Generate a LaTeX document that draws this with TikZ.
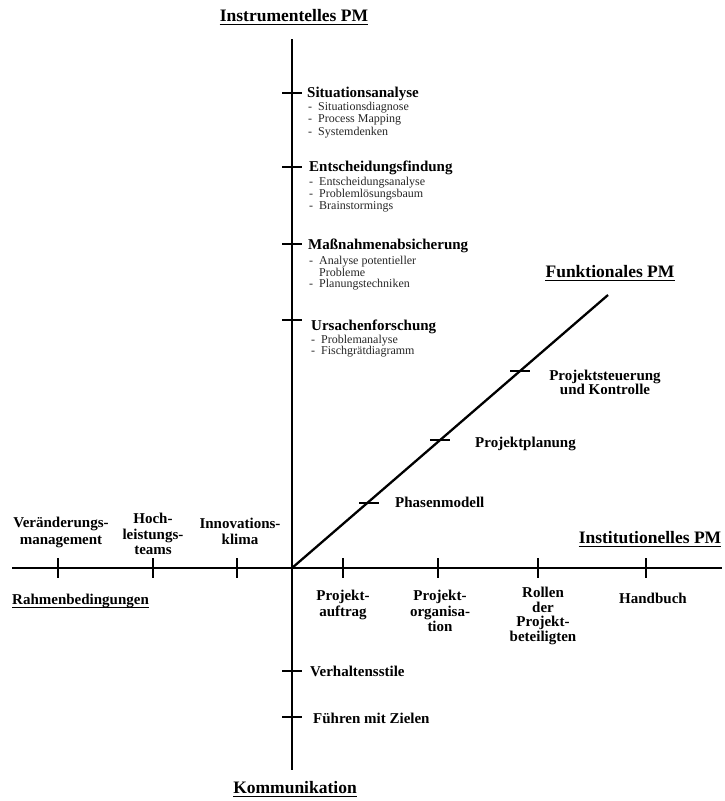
\documentclass[tikz,border=0pt]{standalone}
\usepackage{fontspec}
\setmainfont{Liberation Serif}
\begin{document}
\begin{tikzpicture}[x=1pt,y=-1pt,
  axis/.style={line width=2.6pt},
  diag/.style={line width=2.3pt},
  tk/.style={line width=2.2pt},
  head/.style={font=\fontsize{17.5}{18}\selectfont\bfseries, inner sep=0pt, anchor=base},
  uline/.style={line width=1.4pt},
  lbl/.style={font=\fontsize{15}{15.5}\selectfont\bfseries, inner sep=0pt},
  sub/.style={font=\fontsize{12}{12}\selectfont, inner sep=0pt, anchor=base west, text=black!85}]
\useasboundingbox (0,0) rectangle (724,801);

% axes
\coordinate (O) at (292,568);
\coordinate (Vtop) at (292,39);
\coordinate (Vbot) at (292,770);
\coordinate (Hl) at (12,568);
\coordinate (Hr) at (722,568);
\coordinate (Dend) at (608,295);
\draw[axis] (Vtop) -- (Vbot);
\draw[axis] (Hl) -- (Hr);
\draw[diag] (O) -- (Dend);

% ticks
\foreach \y/\n in {93/va,167/vb,244/vc,320/vd,671/ve,717/vf}
  {\coordinate (\n) at (292,\y); \draw[tk] (\n) ++(-10,0) -- ++(20,0);}
\foreach \x/\n in {58/ha,153/hb,237/hc,343/hd,438/he,538/hf,646/hg}
  {\coordinate (\n) at (\x,568); \draw[tk] (\n) ++(0,-10) -- ++(0,20);}
\foreach \x/\y/\n in {369/503/da,440/440/db,520/371/dc}
  {\coordinate (\n) at (\x,\y); \draw[tk] (\n) ++(-10,0) -- ++(20,0);}

% headings
\node[head] (ipm) at (294,21) {Instrumentelles PM};
\draw[uline] ([yshift=-3.5pt]ipm.base west) -- ([yshift=-3.5pt]ipm.base east);
\node[head] (kom) at (295,793) {Kommunikation};
\draw[uline] ([yshift=-3.5pt]kom.base west) -- ([yshift=-3.5pt]kom.base east);
\node[head] (fpm) at (610,277) {Funktionales PM};
\draw[uline] ([yshift=-3.5pt]fpm.base west) -- ([yshift=-3.5pt]fpm.base east);
\node[head] (inst) at (650,543) {Institutionelles PM};
\draw[uline] ([yshift=-3.5pt]inst.base west) -- ([yshift=-3.5pt]inst.base east);
\node[lbl, anchor=base west] (rb) at (12,604) {Rahmenbedingungen};
\draw[uline] ([yshift=-3.5pt]rb.base west) -- ([yshift=-3.5pt]rb.base east);

% instrumentelles PM items
\node[lbl, anchor=base west] (sa) at (307,97) {Situationsanalyse};
\node[sub] (sa1) at (308,110) {\makebox[10pt][l]{-}Situationsdiagnose};
\node[sub] (sa2) at (308,122.5) {\makebox[10pt][l]{-}Process Mapping};
\node[sub] (sa3) at (308,135) {\makebox[10pt][l]{-}Systemdenken};

\node[lbl, anchor=base west] (ef) at (309,171) {Entscheidungsfindung};
\node[sub] (ef1) at (309,185) {\makebox[10pt][l]{-}Entscheidungsanalyse};
\node[sub] (ef2) at (309,197) {\makebox[10pt][l]{-}Problemlösungsbaum};
\node[sub] (ef3) at (309,209) {\makebox[10pt][l]{-}Brainstormings};

\node[lbl, anchor=base west] (ma) at (308,249) {Maßnahmenabsicherung};
\node[sub] (ma1) at (309,264) {\makebox[10pt][l]{-}Analyse potentieller};
\node[sub] (ma2) at (309,276) {\makebox[10pt][l]{}Probleme};
\node[sub] (ma3) at (309,287) {\makebox[10pt][l]{-}Planungstechniken};

\node[lbl, anchor=base west] (uf) at (311,330) {Ursachenforschung};
\node[sub] (uf1) at (311,343) {\makebox[10pt][l]{-}Problemanalyse};
\node[sub] (uf2) at (311,354) {\makebox[10pt][l]{-}Fischgrätdiagramm};

% Kommunikation items
\node[lbl, anchor=base west] (vs) at (310,676) {Verhaltensstile};
\node[lbl, anchor=base west] (fz) at (313,723) {Führen mit Zielen};

% Rahmenbedingungen items
\node[lbl, align=center, anchor=north, font=\fontsize{15}{17}\selectfont\bfseries] (vm) at (61,517) {Veränderungs-\\management};
\node[lbl, align=center, anchor=north] (hl) at (153,513) {Hoch-\\leistungs-\\teams};
\node[lbl, align=center, anchor=north] (ik) at (240,518) {Innovations-\\klima};

% Institutionelles PM items
\node[lbl, align=center, anchor=north] (pa) at (343,590) {Projekt-\\auftrag};
\node[lbl, align=center, anchor=north] (po) at (440,590) {Projekt-\\organisa-\\tion};
\node[lbl, align=center, anchor=north, font=\fontsize{15}{14.5}\selectfont\bfseries] (rp) at (543,587) {Rollen\\der\\Projekt-\\beteiligten};
\node[lbl, anchor=north] (hb) at (653,593) {Handbuch};

% Funktionales PM items
\node[lbl, anchor=base west] (pm) at (395,507) {Phasenmodell};
\node[lbl, anchor=base west] (pp) at (475,447) {Projektplanung};
\node[lbl, align=center, anchor=north, font=\fontsize{15}{14}\selectfont\bfseries] (sk) at (605,370) {Projektsteuerung\\und Kontrolle};
\end{tikzpicture}
\end{document}
